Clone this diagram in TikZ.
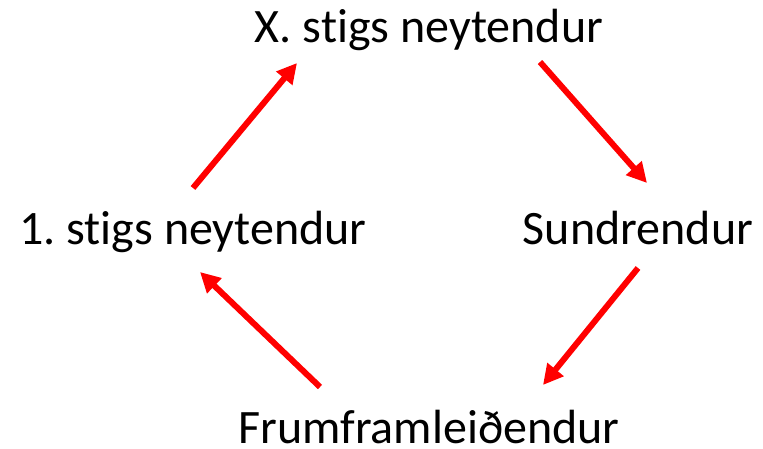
\documentclass[tikz,border=0pt]{standalone}
\usepackage{fontspec}
\setmainfont{Carlito}[Ligatures=NoCommon]
\usetikzlibrary{arrows.meta}
\frenchspacing
\begin{document}
\begin{tikzpicture}[x=1pt,y=1pt,
  lbl/.style={font=\fontsize{48}{56}\selectfont, inner sep=0pt, anchor=base},
  arr/.style={draw=red, line width=6pt, -{Triangle[length=20pt,width=20pt]}}]
\useasboundingbox (0,0) rectangle (763,448);
\node[lbl] (x) at (429,405.3) {X. stigs neytendur};
\node[lbl] (f) at (193,204) {1. stigs neytendur};
\node[lbl] (s) at (638,204) {Sundrendur};
\node[lbl, text depth=0pt] (p) at (429,4.7) {Frumframleiðendur};
\coordinate (a1s) at (193,260); \coordinate (a1e) at (297,385);
\coordinate (a2s) at (540,386); \coordinate (a2e) at (647,265);
\coordinate (a3s) at (638,180); \coordinate (a3e) at (543,63);
\coordinate (a4s) at (320,61); \coordinate (a4e) at (200,176);
\draw[arr] (a1s) -- (a1e);
\draw[arr] (a2s) -- (a2e);
\draw[arr] (a3s) -- (a3e);
\draw[arr] (a4s) -- (a4e);
\end{tikzpicture}
\end{document}
